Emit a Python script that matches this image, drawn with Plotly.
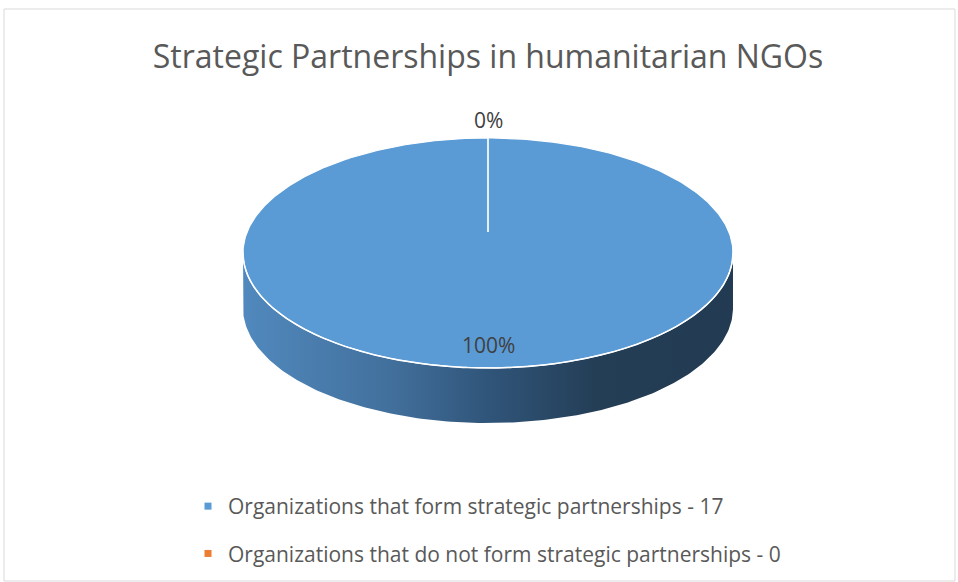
import numpy as np
import plotly.graph_objects as go

# ---- data ----
categories = ["Organizations that form strategic partnerships - 17",
              "Organizations that do not form strategic partnerships - 0"]
values = [17, 0]
colors = ["#5b9bd5", "#ed7d31"]
title_text = "Strategic Partnerships in humanitarian NGOs"

# ---- geometry (pixel space) ----
W, H = 958, 582
cx, cy = 488, 253        # ellipse centre
rx, ry = 245, 115        # ellipse radii
apex_y = 232             # projected pie centre (perspective)
depth = 55               # thickness of the 3D side
FONT = "Open Sans, sans-serif"

total = sum(values)
fracs = [v / total for v in values]

fig = go.Figure()

# side of the pie (front half, shifted down)
t = np.linspace(0, np.pi, 200)
xs_top = cx + rx * np.cos(t)
ys_top = cy + ry * np.sin(t)
side_x = np.concatenate([xs_top, xs_top[::-1], xs_top[:1]])
side_y = np.concatenate([ys_top, ys_top[::-1] + depth, ys_top[:1]])
fig.add_trace(go.Scatter(
    x=side_x, y=side_y, mode="lines", line=dict(width=0, color="rgba(0,0,0,0)"),
    fill="toself",
    fillgradient=dict(type="horizontal",
                      colorscale=[[0, "#5189be"], [0.3, "#42709c"], [0.5, "#30557a"],
                                  [0.72, "#243e56"], [1, "#223b52"]]),
    hoverinfo="skip", showlegend=False))

# top slices
start = 0.0
for i, (cat, f, col) in enumerate(zip(categories, fracs, colors)):
    a0, a1 = start * 2 * np.pi, (start + f) * 2 * np.pi
    n = max(2, int(400 * f) + 2)
    th = np.linspace(a0, a1, n)
    px = np.concatenate([[cx], cx + rx * np.sin(th), [cx]])
    py = np.concatenate([[apex_y], cy - ry * np.cos(th), [apex_y]])
    fig.add_trace(go.Scatter(
        x=px, y=py, mode="lines", fill="toself", fillcolor=col,
        line=dict(color="white", width=1.2),
        hoverinfo="skip", showlegend=False))
    start += f

# white rim between top and side
fig.add_trace(go.Scatter(x=xs_top, y=ys_top, mode="lines",
                         line=dict(color="white", width=1.5),
                         hoverinfo="skip", showlegend=False))

# data labels
start = 0.0
for v, f in zip(values, fracs):
    mid = (start + f / 2) * 2 * np.pi
    k = 1.16 if v == 0 else 0.80
    lx = cx + k * rx * np.sin(mid)
    ly = cy - k * ry * np.cos(mid)
    fig.add_annotation(x=lx, y=ly, text=f"{round(f * 100)}%", showarrow=False,
                       font=dict(family=FONT, size=21, color="#404040"))
    start += f

# legend entries
for i, (cat, col) in enumerate(zip(categories, colors)):
    fig.add_trace(go.Scatter(x=[None], y=[None], mode="markers", name=cat,
                             legendgroup=f"g{i}",
                             marker=dict(symbol="square", size=7, color=col)))

fig.update_layout(
    width=W, height=H,
    margin=dict(l=0, r=0, t=0, b=0),
    paper_bgcolor="white", plot_bgcolor="white",
    xaxis=dict(range=[0, W], visible=False, fixedrange=True),
    yaxis=dict(range=[H, 0], visible=False, fixedrange=True),
    title=dict(text=title_text, x=488 / W, xanchor="center", y=1 - 57 / H, yanchor="middle",
               font=dict(family=FONT, size=32, color="#595959")),
    legend=dict(x=188 / W, xanchor="left", y=1 - 486 / H, yanchor="top",
                font=dict(family=FONT, size=21, color="#595959"),
                tracegroupgap=17, itemwidth=30, bgcolor="rgba(0,0,0,0)"),
    shapes=[dict(type="rect", xref="paper", yref="paper",
                 x0=4 / W, x1=955 / W, y0=1 - 581 / H, y1=1 - 9 / H,
                 line=dict(color="#d9d9d9", width=1))],
)

fig.write_html("out.html")
